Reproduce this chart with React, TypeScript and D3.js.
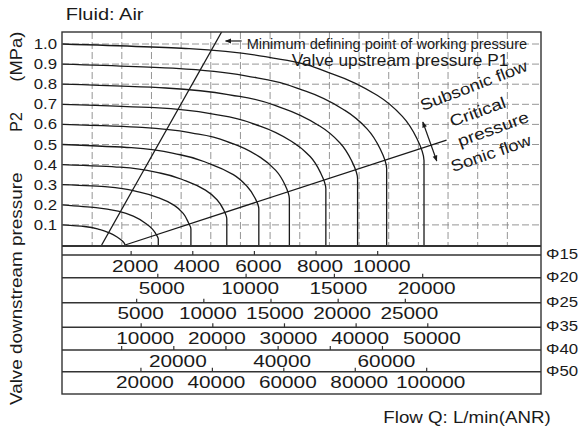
import React from "react";
import * as d3 from "d3";

const W = 582;
const H = 430;

// Valve downstream pressure P2 ticks (MPa)
const pressureTicks = [0.1, 0.2, 0.3, 0.4, 0.5, 0.6, 0.7, 0.8, 0.9, 1.0];
// vertical grid columns of the nomogram (relative flow units)
const gridColumns = [1, 2, 3, 4, 5, 6, 7, 8, 9, 10, 11, 12, 13, 14, 15];

// Upstream pressure curves P1: relative flow (grid units) and P2 (MPa)
const curveP1 = [1.0, 0.9, 0.8, 0.7, 0.6, 0.5, 0.4, 0.3, 0.2, 0.1];
const curveFlow = [
  [0, 4.27, 7.31, 9.14, 10.61, 11.46, 11.95, 12.19, 12.19],
  [0, 3.83, 6.56, 8.2, 9.51, 10.27, 10.71, 10.93, 10.93],
  [0, 3.48, 5.97, 7.46, 8.66, 9.35, 9.75, 9.95, 9.95],
  [0, 3.11, 5.33, 6.66, 7.73, 8.35, 8.7, 8.88, 8.88],
  [0, 2.68, 4.59, 5.74, 6.66, 7.19, 7.5, 7.65, 7.65],
  [0, 2.32, 3.97, 4.97, 5.76, 6.22, 6.49, 6.62, 6.62],
  [0, 1.94, 3.32, 4.16, 4.82, 5.21, 5.43, 5.54, 5.54],
  [0, 1.52, 2.6, 3.25, 3.77, 4.07, 4.24, 4.33, 4.33],
  [0, 1.13, 1.94, 2.42, 2.81, 3.04, 3.17, 3.23, 3.23],
  [0, 0.74, 1.27, 1.58, 1.84, 1.98, 2.07, 2.11],
];
const curveP2 = [
  [1.0, 0.977, 0.925, 0.849, 0.745, 0.64, 0.53, 0.42, 0],
  [0.9, 0.879, 0.832, 0.765, 0.671, 0.578, 0.479, 0.38, 0],
  [0.8, 0.781, 0.739, 0.678, 0.593, 0.509, 0.419, 0.33, 0],
  [0.7, 0.683, 0.645, 0.591, 0.515, 0.44, 0.36, 0.28, 0],
  [0.6, 0.585, 0.552, 0.504, 0.437, 0.371, 0.3, 0.23, 0],
  [0.5, 0.484, 0.449, 0.404, 0.35, 0.292, 0.234, 0.18, 0],
  [0.4, 0.387, 0.357, 0.319, 0.273, 0.225, 0.176, 0.13, 0],
  [0.3, 0.289, 0.263, 0.234, 0.197, 0.157, 0.113, 0.08, 0],
  [0.2, 0.186, 0.166, 0.141, 0.107, 0.078, 0.05, 0.03, 0],
  [0.1, 0.092, 0.076, 0.06, 0.04, 0.025, 0.012, 0],
];

// Minimum defining point of working pressure line, and critical pressure line
const minLineFlow = [1.32, 5.37];
const minLineP2 = [0, 1.061];
const critLineFlow = [2.11, 12.95];
const critLineP2 = [0, 0.522];

// Flow scales per port size (L/min ANR)
const sizeNames = ["Φ15", "Φ20", "Φ25", "Φ35", "Φ40", "Φ50"];
const sizeFullScale = [15300, 26700, 35100, 65800, 90400, 132000];
const sizeTicks = [
  [2000, 4000, 6000, 8000, 10000],
  [5000, 10000, 15000, 20000],
  [5000, 10000, 15000, 20000, 25000],
  [10000, 20000, 30000, 40000, 50000],
  [10000, 20000, 30000, 40000, 50000, 60000],
  [20000, 40000, 60000, 80000, 100000],
];
const sizeLabelled = [
  [2000, 4000, 6000, 8000, 10000],
  [5000, 10000, 15000, 20000],
  [5000, 10000, 15000, 20000, 25000],
  [10000, 20000, 30000, 40000, 50000],
  [20000, 40000, 60000],
  [20000, 40000, 60000, 80000, 100000],
];

const FONT = "'Liberation Sans', Arial, Helvetica, sans-serif";
const INK = "#1a1a1a";

function T({ x, y, sx = 1, size = 16, anchor = "start", rotate = 0, children }: any) {
  return (
    <text
      transform={`translate(${x},${y}) rotate(${rotate}) scale(${sx},1)`}
      textAnchor={anchor}
      fontSize={size}
      fontFamily={FONT}
      fill={INK}
    >
      {children}
    </text>
  );
}

export default function App() {
  const plotL = 62;
  const plotR = 541;
  const plotT = 32;
  const plotB = 246;
  const rowLines = [255, 277.7, 302.7, 327.3, 350, 371.7];
  const scaleB = 394;

  const x = d3.scaleLinear().domain([0, 16]).range([62.5, 537]);
  const y = d3.scaleLinear().domain([0, 1.0]).range([245, 44]);

  const line = d3
    .line<[number, number]>()
    .x((d) => x(d[0]))
    .y((d) => y(d[1]))
    .curve(d3.curveMonotoneY);
  const straight = d3
    .line<[number, number]>()
    .x((d) => x(d[0]))
    .y((d) => y(d[1]));

  const curves = curveP1.map((p1, i) =>
    curveFlow[i].map((u, j) => [u, curveP2[i][j]] as [number, number])
  );

  const rowScales = sizeFullScale.map((m) =>
    d3.scaleLinear().domain([0, m]).range([69.5, plotR])
  );

  const fmt = d3.format("d");

  return (
    <svg
      width={W}
      height={H}
      viewBox={`0 0 ${W} ${H}`}
      style={{ position: "absolute", left: 0, top: 0, background: "#fff" }}
    >
      <defs>
        <clipPath id="plotClip">
          <rect x={plotL} y={plotT} width={plotR - plotL} height={plotB - plotT} />
        </clipPath>
        <marker
          id="ah"
          viewBox="0 0 10 10"
          refX="9"
          refY="5"
          markerWidth="7"
          markerHeight="6"
          orient="auto-start-reverse"
          markerUnits="userSpaceOnUse"
        >
          <path d="M0,1 L10,5 L0,9 Z" fill={INK} />
        </marker>
      </defs>
      <rect x={0} y={0} width={W} height={H} fill="#fff" />

      {/* grid */}
      <g stroke="#8a8a8a" strokeWidth={0.9} strokeDasharray="7 3">
        {pressureTicks.map((p) => (
          <line key={"h" + p} x1={plotL} x2={plotR} y1={y(p)} y2={y(p)} />
        ))}
        {gridColumns.map((c) => (
          <line key={"v" + c} x1={x(c)} x2={x(c)} y1={plotT} y2={plotB} />
        ))}
      </g>

      {/* curves */}
      <g clipPath="url(#plotClip)" fill="none" stroke={INK} strokeWidth={1.3}>
        {curves.map((c, i) => (
          <path key={i} d={line(c) || ""} />
        ))}
        <path
          d={
            straight(
              minLineFlow.map((u, j) => [u, minLineP2[j]] as [number, number])
            ) || ""
          }
        />
        <path
          d={
            straight(
              critLineFlow.map((u, j) => [u, critLineP2[j]] as [number, number])
            ) || ""
          }
        />
      </g>

      {/* annotation arrows */}
      <line
        x1={x(6.04)}
        y1={y(1.015)}
        x2={x(5.5)}
        y2={y(1.015)}
        stroke={INK}
        strokeWidth={1.2}
        markerEnd="url(#ah)"
      />
      <line
        x1={x(12.15)}
        y1={y(0.612)}
        x2={x(12.62)}
        y2={y(0.418)}
        stroke={INK}
        strokeWidth={1.2}
        markerStart="url(#ah)"
        markerEnd="url(#ah)"
      />

      {/* frames */}
      <g fill="none" stroke="#333" strokeWidth={1.4}>
        <rect x={plotL} y={plotT} width={plotR - plotL} height={scaleB - plotT} />
        <line x1={plotL} x2={plotR} y1={plotB} y2={plotB} strokeWidth={2} />
        {rowLines.map((ly, i) => (
          <line key={i} x1={plotL} x2={plotR} y1={ly} y2={ly} />
        ))}
      </g>

      {/* flow scales */}
      {rowScales.map((s, i) => (
        <g key={"row" + i}>
          {sizeTicks[i].map((t) => (
            <line
              key={t}
              x1={s(t)}
              x2={s(t)}
              y1={rowLines[i] - 4}
              y2={rowLines[i]}
              stroke="#333"
              strokeWidth={1.2}
            />
          ))}
          {sizeLabelled[i].map((t) => (
            <T key={"l" + t} x={s(t) + 4} y={rowLines[i] + 16.5} anchor="middle" size={16} sx={1.3}>
              {fmt(t)}
            </T>
          ))}
          <T x={546} y={rowLines[i] + 4} size={15} sx={1.12}>
            {sizeNames[i]}
          </T>
        </g>
      ))}

      {/* y tick labels */}
      {pressureTicks.map((p) => (
        <T key={"yt" + p} x={57} y={y(p) + 5} anchor="end" size={15} sx={1.12}>
          {d3.format(".1f")(p)}
        </T>
      ))}

      {/* texts */}
      <T x={65.7} y={20} size={16} sx={1.25}>
        Fluid: Air
      </T>
      <T x={22} y={81.7} rotate={-90} size={16} sx={1.15}>
        (MPa)
      </T>
      <T x={22} y={131.7} rotate={-90} size={16} sx={1.0}>
        P2
      </T>
      <T x={22} y={405} rotate={-90} size={16} sx={1.18}>
        Valve downstream pressure
      </T>
      <T x={x(6.21)} y={y(0.975)} size={14} sx={1.04}>
        Minimum defining point of working pressure
      </T>
      <T x={x(7.73)} y={y(0.891)} size={16} sx={1.08}>
        Valve upstream pressure P1
      </T>
      <T x={x(12.15)} y={y(0.667)} rotate={-21} size={16} sx={1.15}>
        Subsonic flow
      </T>
      <T x={x(13.13)} y={y(0.587)} rotate={-20} size={16} sx={1.2}>
        Critical
      </T>
      <T x={x(13.4)} y={y(0.488)} rotate={-20} size={16} sx={1.2}>
        pressure
      </T>
      <T x={x(13.17)} y={y(0.363)} rotate={-19} size={16} sx={1.15}>
        Sonic flow
      </T>
      <T x={383.3} y={423} size={16} sx={1.17}>
        Flow Q: L/min(ANR)
      </T>
    </svg>
  );
}
